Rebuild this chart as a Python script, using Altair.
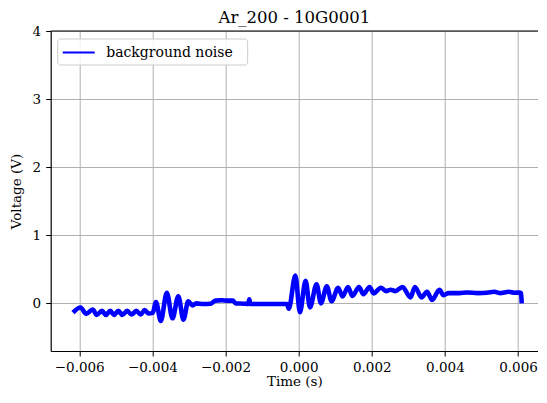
import altair as alt
import pandas as pd

# time in milliseconds, voltage in volts
time_ms = [-6.17, -5.965, -5.81, -5.63, -5.52, -5.38, -5.27, -5.15, -5.05, -4.93,
           -4.82, -4.69, -4.57, -4.44, -4.32, -4.21, -4.10, -3.99, -3.90, -3.77,
           -3.605, -3.45, -3.29, -3.15, -3.02, -2.90, -2.80, -2.6, -2.4, -2.28,
           -2.1, -1.95, -1.8, -1.72, -1.5, -1.38, -1.35, -1.32, -1.0, -0.6,
           -0.32, -0.27, -0.09, 0.035, 0.19, 0.31, 0.49, 0.61, 0.77, 0.90,
           1.08, 1.20, 1.35, 1.47, 1.65, 1.77, 1.94, 2.05, 2.25, 2.39,
           2.52, 2.64, 2.84, 3.06, 3.18, 3.36, 3.51, 3.65, 3.85, 3.96,
           4.1, 4.4, 4.6, 4.9, 5.15, 5.35, 5.5, 5.75, 5.9, 6.05, 6.08, 6.10]
volts = [-0.135, -0.06, -0.155, -0.09, -0.17, -0.11, -0.17, -0.11, -0.17, -0.11,
         -0.17, -0.11, -0.165, -0.11, -0.165, -0.10, -0.15, -0.14, 0.02, -0.26,
         0.155, -0.22, 0.105, -0.24, 0.03, -0.03, 0.0, -0.01, -0.005, 0.04,
         0.045, 0.04, 0.04, 0.0, -0.005, -0.01, 0.06, -0.01, -0.01, -0.01,
         -0.01, -0.08, 0.41, -0.13, 0.33, -0.06, 0.28, 0.0, 0.25, 0.03,
         0.23, 0.10, 0.24, 0.11, 0.24, 0.135, 0.24, 0.145, 0.23, 0.18,
         0.20, 0.18, 0.24, 0.087, 0.24, 0.087, 0.17, 0.05, 0.20, 0.12,
         0.15, 0.15, 0.16, 0.15, 0.155, 0.17, 0.15, 0.17, 0.155, 0.16, 0.15, 0.0]

x_ticks = [-0.006, -0.004, -0.002, 0.0, 0.002, 0.004, 0.006]
y_ticks = [0, 1, 2, 3, 4]
series_name = "background noise"

df = pd.DataFrame({"t": [v / 1000.0 for v in time_ms], "v": volts})
legend_df = pd.DataFrame({"label": [series_name]})

FONT = "DejaVu Serif"
BLUE = "#0000ff"

xscale = alt.Scale(domain=[-0.00678, 0.006545], nice=False, zero=False)
yscale = alt.Scale(domain=[-0.7, 4], nice=False, zero=False)

line = alt.Chart(df).mark_line(strokeWidth=4.6, interpolate="monotone", color=BLUE).encode(
    x=alt.X("t:Q", title="Time (s)", scale=xscale,
            axis=alt.Axis(values=x_ticks, format=".3f", tickSize=5, labelPadding=4,
                          titlePadding=1)),
    y=alt.Y("v:Q", title="Voltage (V)", scale=yscale,
            axis=alt.Axis(values=y_ticks, format="d", tickSize=5, labelPadding=5,
                          titlePadding=9)),
)

top_rule = alt.Chart(legend_df).mark_rule(color="black", strokeWidth=1.2).encode(
    y=alt.datum(4)
)

legend_box = alt.Chart(legend_df).mark_rect(
    fill="white", fillOpacity=0.85, stroke="#cccccc", strokeWidth=1, cornerRadius=3
).encode(x=alt.value(7), x2=alt.value(197), y=alt.value(8), y2=alt.value(34))

legend_line = alt.Chart(legend_df).mark_rule(color=BLUE, strokeWidth=2).encode(
    x=alt.value(12), x2=alt.value(44), y=alt.value(21.5)
)

legend_text = alt.Chart(legend_df).mark_text(
    font=FONT, fontSize=14, align="left", baseline="middle", color="black"
).encode(x=alt.value(55.5), y=alt.value(21.5), text="label:N")

chart = alt.layer(line, top_rule, legend_box, legend_line, legend_text).properties(
    width=487.3, height=320,
    title=alt.Title("Ar_200 - 10G0001", font=FONT, fontSize=16.5, fontWeight="normal",
                    color="black", offset=-2),
    autosize=alt.AutoSizeParams(type="none"),
    padding={"left": 42.7, "top": 23, "right": 0, "bottom": 37},
).configure_view(stroke=None).configure_axis(
    labelFont=FONT, titleFont=FONT, labelFontSize=13.5, titleFontSize=13.5,
    titleFontWeight="normal", labelColor="black", titleColor="black",
    domainColor="black", domainWidth=1.2, tickColor="black", tickWidth=1,
    gridColor="#b0b0b0", gridWidth=1, grid=True,
)

chart.save("out.html", embed_options={"renderer": "svg", "actions": False})
